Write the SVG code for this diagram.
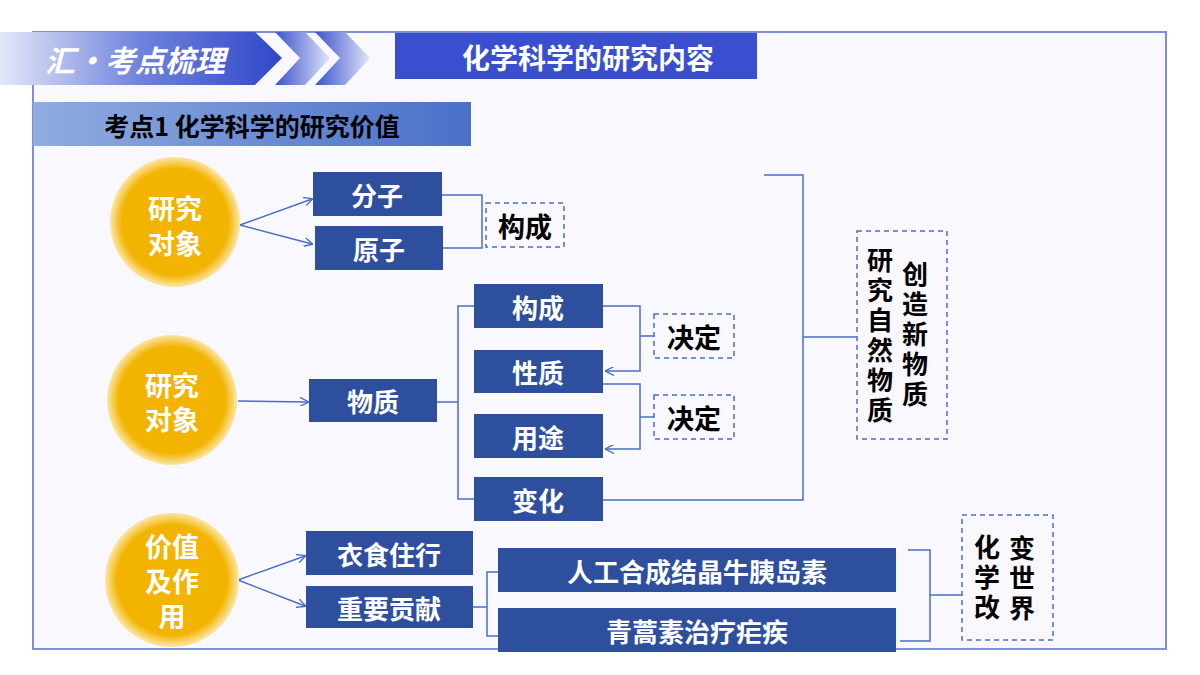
<svg xmlns="http://www.w3.org/2000/svg" width="1200" height="675" viewBox="0 0 1200 675">
<defs>
<linearGradient id="hg" x1="0" x2="1" y1="0" y2="0"><stop offset="0" stop-color="#e4e8f8"/><stop offset="0.5" stop-color="#6f82dc"/><stop offset="1" stop-color="#3047c8"/></linearGradient>
<linearGradient id="cg" x1="0" x2="1"><stop offset="0" stop-color="#3a52cc"/><stop offset="1" stop-color="#dfe5f8"/></linearGradient>
<linearGradient id="sg" x1="0" x2="1"><stop offset="0" stop-color="#90acdf"/><stop offset="1" stop-color="#4a70c8"/></linearGradient>
<radialGradient id="yg"><stop offset="0" stop-color="#f2b400"/><stop offset="0.82" stop-color="#f2b400"/><stop offset="1" stop-color="#fbe6a8"/></radialGradient>
<marker id="ar" viewBox="0 0 10 10" refX="9" refY="5" markerWidth="9" markerHeight="9" orient="auto" markerUnits="userSpaceOnUse"><path d="M0,0 L10,5 L0,10" fill="none" stroke="#4a6fc7" stroke-width="1.5"/></marker>
</defs>
<style>
.bx{fill:#2e4e9e}
.bt{font-family:"Noto Sans CJK SC",sans-serif;font-weight:bold;fill:#fff;font-size:26px;text-anchor:middle;dominant-baseline:central}
.ct{font-family:"Noto Sans CJK SC",sans-serif;font-weight:bold;fill:#fff;font-size:27px;text-anchor:middle;dominant-baseline:central}
.dt{font-family:"Noto Sans CJK SC",sans-serif;font-weight:bold;fill:#000;font-size:27px;text-anchor:middle;dominant-baseline:central}
.vt{font-family:"Noto Sans CJK SC",sans-serif;font-weight:bold;fill:#000;font-size:26px;text-anchor:middle;writing-mode:vertical-rl;letter-spacing:4px}
.db{fill:none;stroke:#4a6fc7;stroke-width:1.5;stroke-dasharray:5 4}
.ln{fill:none;stroke:#4a6fc7;stroke-width:1.5}
</style>
<rect width="1200" height="675" fill="#fff"/>
<rect x="33" y="32" width="1133" height="617" fill="#f8f8fe" stroke="#7b8ee0" stroke-width="2"/>
<g id="header">
<polygon points="0,32 255,32 282,58 255,85 0,85" fill="url(#hg)"/>
<polygon points="275,32 305,32 330,58 305,85 275,85 300,58" fill="url(#cg)"/>
<polygon points="315,32 345,32 370,58 345,85 315,85 340,58" fill="url(#cg)"/>
<text x="135" y="59" font-family="Noto Sans CJK SC,sans-serif" font-weight="bold" font-style="italic" font-size="30" fill="#fff" text-anchor="middle" dominant-baseline="central">汇•考点梳理</text>
<rect x="395" y="33" width="362" height="46" fill="#3a4fcf"/>
<text x="588" y="57" font-family="Noto Sans CJK SC,sans-serif" font-weight="bold" font-size="28" fill="#fff" text-anchor="middle" dominant-baseline="central">化学科学的研究内容</text>
<rect x="33" y="102" width="438" height="44" fill="url(#sg)"/>
<text x="252" y="125" font-family="Noto Sans CJK SC,sans-serif" font-weight="bold" font-size="25" fill="#000" text-anchor="middle" dominant-baseline="central">考点1 化学科学的研究价值</text>
</g>
<g id="connectors">
<line class="ln" x1="240" y1="225" x2="312" y2="199" marker-end="url(#ar)"/>
<line class="ln" x1="240" y1="225" x2="312" y2="244" marker-end="url(#ar)"/>
<path class="ln" d="M442,195 H482 V248 H443"/>
<line class="ln" x1="238" y1="401" x2="308" y2="402" marker-end="url(#ar)"/>
<path class="ln" d="M437,402 H458 M474,306 H458 V499 H474"/>
<path class="ln" d="M603,306 H640 V371 H606" marker-end="url(#ar)"/>
<path class="ln" d="M640,336 H654"/>
<path class="ln" d="M603,384 H640 V449 H606" marker-end="url(#ar)"/>
<path class="ln" d="M640,417 H654"/>
<path class="ln" d="M764,175 H803 V500 H603 M803,337 H857"/>
<line class="ln" x1="238" y1="580" x2="305" y2="556" marker-end="url(#ar)"/>
<line class="ln" x1="238" y1="580" x2="305" y2="606" marker-end="url(#ar)"/>
<path class="ln" d="M473,607 H487 M498,572 H487 V636 H498"/>
<path class="ln" d="M908,550 H930 V641 H900 M930,595 H962"/>
</g>
<g id="c1"><circle cx="175" cy="222" r="65" fill="url(#yg)"/><text class="ct" x="175" y="207">研究</text><text class="ct" x="175" y="242">对象</text></g>
<g id="c2"><circle cx="172" cy="400" r="65" fill="url(#yg)"/><text class="ct" x="172" y="384">研究</text><text class="ct" x="172" y="418">对象</text></g>
<g id="c3"><circle cx="172" cy="580" r="67" fill="url(#yg)"/><text class="ct" x="172" y="545">价值</text><text class="ct" x="172" y="580">及作</text><text class="ct" x="172" y="615">用</text></g>
<g id="n1"><rect class="bx" x="313" y="172" width="129" height="44"/><text class="bt" x="377" y="194">分子</text></g>
<g id="n2"><rect class="bx" x="315" y="226" width="128" height="44"/><text class="bt" x="379" y="248">原子</text></g>
<g id="n3"><rect class="bx" x="474" y="284" width="129" height="44"/><text class="bt" x="538" y="306">构成</text></g>
<g id="n4"><rect class="bx" x="474" y="350" width="129" height="43"/><text class="bt" x="538" y="371">性质</text></g>
<g id="n5"><rect class="bx" x="474" y="414" width="129" height="44"/><text class="bt" x="538" y="436">用途</text></g>
<g id="n6"><rect class="bx" x="474" y="477" width="129" height="44"/><text class="bt" x="538" y="499">变化</text></g>
<g id="n7"><rect class="bx" x="309" y="379" width="128" height="43"/><text class="bt" x="373" y="400">物质</text></g>
<g id="n8"><rect class="bx" x="306" y="531" width="167" height="44"/><text class="bt" x="389" y="553">衣食住行</text></g>
<g id="n9"><rect class="bx" x="306" y="586" width="167" height="42"/><text class="bt" x="389" y="607">重要贡献</text></g>
<g id="n10"><rect class="bx" x="498" y="548" width="398" height="44"/><text class="bt" x="697" y="570">人工合成结晶牛胰岛素</text></g>
<g id="n11"><rect class="bx" x="498" y="608" width="398" height="44"/><text class="bt" x="697" y="630">青蒿素治疗疟疾</text></g>
<g id="d1"><rect class="db" x="486" y="203" width="78" height="44"/><text class="dt" x="525" y="225">构成</text></g>
<g id="d2"><rect class="db" x="654" y="314" width="80" height="44"/><text class="dt" x="694" y="336">决定</text></g>
<g id="d3"><rect class="db" x="654" y="395" width="80" height="44"/><text class="dt" x="694" y="417">决定</text></g>
<g id="d4"><rect class="db" x="857" y="231" width="90" height="208"/>
<text class="vt" x="880" y="337">研究自然物质</text>
<text class="vt" x="915" y="336">创造新物质</text></g>
<g id="d5"><rect class="db" x="962" y="515" width="91" height="125"/>
<text class="vt" x="987" y="579">化学改</text>
<text class="vt" x="1022" y="580">变世界</text></g>
</svg>
